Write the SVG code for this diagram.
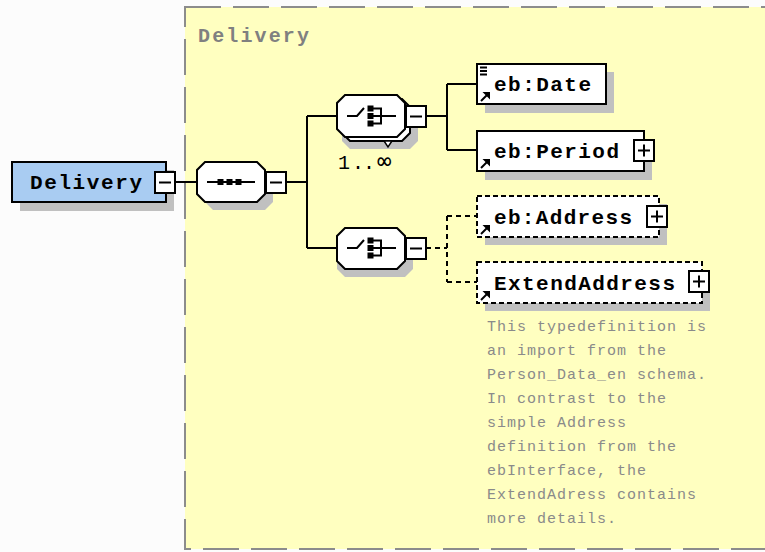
<svg xmlns="http://www.w3.org/2000/svg" width="765" height="552" viewBox="0 0 765 552">
<style>
.bg{fill:#FCFCFC}
.frame{fill:#FFFFC0;stroke:#8C8C8C;stroke-width:2;stroke-dasharray:36 12}
.title{font-family:"Liberation Mono",monospace;font-weight:bold;font-size:20px;fill:#808080}
.lbl{font-family:"Liberation Mono",monospace;font-weight:bold;font-size:21px;fill:#000}
.occ{font-family:"Liberation Mono","DejaVu Sans Mono",monospace;font-size:20px;fill:#000}
.note{font-family:"Liberation Mono",monospace;font-size:15px;fill:#8A8A8A;letter-spacing:1px}
.shadow{fill:#C0C0C0}
.box{fill:#fff;stroke:#000;stroke-width:2}
.opt{fill:#fff;stroke:#000;stroke-width:2;stroke-dasharray:5 3}
.root{fill:#A9CCF2;stroke:#000;stroke-width:2}
.ln{fill:none;stroke:#000;stroke-width:2}
.dln{fill:none;stroke:#000;stroke-width:2;stroke-dasharray:5 4}
.sq{fill:#000}
</style>
<defs>
<g id="minus"><rect class="box" x="0" y="0" width="20" height="21"/><path class="ln" d="M4 10.5H16"/></g>
<g id="plus"><rect class="box" x="0" y="0" width="20" height="21"/><path class="ln" d="M4 10.5H16M10 4.5V16.5"/></g>
<g id="choiceicon">
<path class="ln" d="M347 116H357L364 108"/>
<rect class="sq" x="367.5" y="105.5" width="6" height="6"/>
<rect class="sq" x="367.5" y="113" width="6" height="6"/>
<rect class="sq" x="367.5" y="120.5" width="6" height="6"/>
<path class="ln" d="M373 108.5H381V123.5H373M373 116H396"/>
</g>
<g id="refarrow"><path class="ln" d="M481 101L487 95" stroke-width="2.5"/><path d="M482.5 92H490V99.5Z" fill="#000"/></g>
</defs>
<rect class="bg" x="0" y="0" width="765" height="552"/>
<rect class="frame" x="185" y="7" width="620" height="542"/>
<text class="title" x="198" y="42" textLength="111" lengthAdjust="spacing">Delivery</text>

<g id="connectors">
<path class="ln" d="M175 182H197"/>
<path class="ln" d="M286 182H307M307 116V248M307 116H337M307 248H337"/>
<path class="ln" d="M426 116H447M447 84V150M447 84H477M447 150H477"/>
<path class="dln" d="M426 248H447M447 216V282M447 216H477M447 282H477"/>
</g>

<g id="root">
<rect class="shadow" x="20" y="170" width="154" height="41"/>
<rect class="root" x="12" y="162" width="154" height="40"/>
<text class="lbl" x="30" y="189" textLength="112" lengthAdjust="spacing">Delivery</text>
<use href="#minus" x="155" y="172"/>
</g>

<g id="sequence">
<path class="shadow" d="M213 170H265L273 178V202L265 210H213L205 202V178Z"/>
<path class="box" d="M205 162H257L265 170V194L257 202H205L197 194V170Z"/>
<path class="ln" d="M207 182H255"/>
<rect class="sq" x="217.5" y="179" width="6" height="6"/>
<rect class="sq" x="226.5" y="179" width="6" height="6"/>
<rect class="sq" x="235.5" y="179" width="6" height="6"/>
<use href="#minus" x="266" y="172"/>
</g>

<g id="choice1">
<path class="shadow" d="M350 107H410L418 115V141L410 149H350L342 141V115Z"/>
<path class="box" d="M350 99H402L410 107V133L402 141H350L342 133V107Z"/>
<path class="box" d="M345 95H397L405 103V129L397 137H345L337 129V103Z"/>
<path d="M384 141H392L388 147Z" fill="#fff" stroke="#000" stroke-width="1.5"/>
<use href="#choiceicon"/>
<use href="#minus" x="406" y="106"/>
<text class="occ" x="338" y="169">1<tspan x="352">.</tspan><tspan x="363">.</tspan><tspan x="377" font-family="DejaVu Sans Mono, monospace" font-size="24">∞</tspan></text>
</g>

<g id="choice2">
<path class="shadow" d="M345 236H405L413 244V269L405 277H345L337 269V244Z"/>
<path class="box" d="M345 228H397L405 236V261L397 269H345L337 261V236Z"/>
<use href="#choiceicon" transform="translate(0 132)"/>
<use href="#minus" x="406" y="238"/>
</g>

<g id="date">
<rect class="shadow" x="485" y="72" width="129" height="41"/>
<rect class="box" x="477" y="64" width="129" height="40"/>
<path class="ln" d="M480 67.5H487M480 71H487M480 74.5H487" stroke-width="1.5"/>
<use href="#refarrow"/>
<text class="lbl" x="494" y="91" textLength="97" lengthAdjust="spacing">eb:Date</text>
</g>

<g id="period">
<rect class="shadow" x="485" y="139" width="167" height="41"/>
<rect class="box" x="477" y="131" width="167" height="40"/>
<use href="#refarrow" transform="translate(0 67)"/>
<text class="lbl" x="494" y="158" textLength="125" lengthAdjust="spacing">eb:Period</text>
<use href="#plus" x="634" y="140"/>
</g>

<g id="address">
<rect class="shadow" x="485" y="204" width="182" height="41"/>
<rect class="opt" x="477" y="196" width="182" height="41"/>
<use href="#refarrow" transform="translate(0 133)"/>
<text class="lbl" x="494" y="224" textLength="138" lengthAdjust="spacing">eb:Address</text>
<use href="#plus" x="647" y="206"/>
</g>

<g id="extendaddress">
<rect class="shadow" x="485" y="270" width="225" height="41"/>
<rect class="opt" x="477" y="262" width="225" height="41"/>
<use href="#refarrow" transform="translate(0 199)"/>
<text class="lbl" x="494" y="290" textLength="181" lengthAdjust="spacing">ExtendAddress</text>
<use href="#plus" x="689" y="271"/>
</g>

<g id="annotation">
<text class="note" x="487" y="331">This typedefinition is</text>
<text class="note" x="487" y="355">an import from the</text>
<text class="note" x="487" y="379">Person_Data_en schema.</text>
<text class="note" x="487" y="403">In contrast to the</text>
<text class="note" x="487" y="427">simple Address</text>
<text class="note" x="487" y="451">definition from the</text>
<text class="note" x="487" y="475">ebInterface, the</text>
<text class="note" x="487" y="499">ExtendAdress contains</text>
<text class="note" x="487" y="523">more details.</text>
</g>
</svg>
